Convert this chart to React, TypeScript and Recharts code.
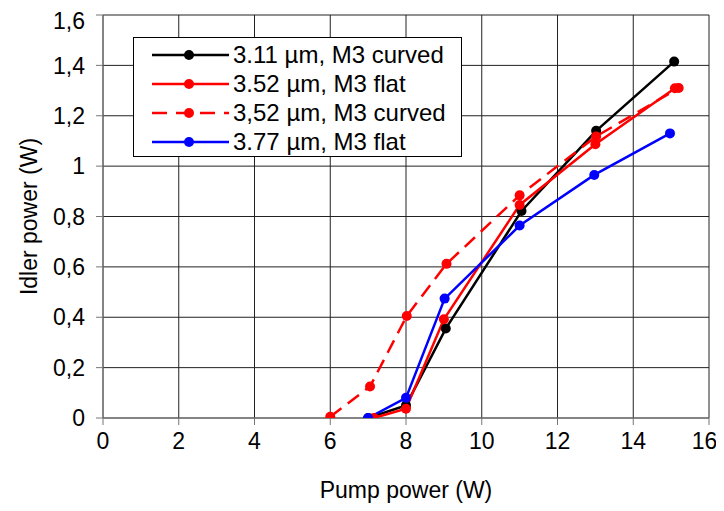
import React from "react";
import { LineChart, Line, XAxis, YAxis, CartesianGrid } from "recharts";

type Pt = { x: number; y: number };

const xTicks = [0, 2, 4, 6, 8, 10, 12, 14, 16];
const yTicks = [0, 0.2, 0.4, 0.6, 0.8, 1, 1.2, 1.4, 1.6];

const curved311: Pt[] = [
  { x: 7, y: 0 },
  { x: 8, y: 0.05 },
  { x: 9.05, y: 0.355 },
  { x: 11.05, y: 0.822 },
  { x: 13.02, y: 1.14 },
  { x: 15.08, y: 1.415 },
];

const flat352: Pt[] = [
  { x: 7.15, y: 0 },
  { x: 8, y: 0.037 },
  { x: 9, y: 0.392 },
  { x: 11, y: 0.846 },
  { x: 13, y: 1.087 },
  { x: 15.1, y: 1.309 },
];

const curved352: Pt[] = [
  { x: 6, y: 0.005 },
  { x: 7.05, y: 0.125 },
  { x: 8.02, y: 0.405 },
  { x: 9.07, y: 0.612 },
  { x: 11, y: 0.884 },
  { x: 13.02, y: 1.118 },
  { x: 15.2, y: 1.31 },
];

const flat377: Pt[] = [
  { x: 7, y: 0 },
  { x: 8, y: 0.08 },
  { x: 9.02, y: 0.474 },
  { x: 11, y: 0.764 },
  { x: 12.97, y: 0.965 },
  { x: 14.97, y: 1.13 },
];

const series = [
  { name: "3.11 µm, M3 curved", data: curved311, color: "#000000", dash: undefined },
  { name: "3.52 µm, M3 flat", data: flat352, color: "#ff0000", dash: undefined },
  { name: "3,52 µm, M3 curved", data: curved352, color: "#ff0000", dash: "14 8" },
  { name: "3.77 µm, M3 flat", data: flat377, color: "#0000ff", dash: undefined },
];

const FONT = "'Liberation Sans', Arial, sans-serif";

const fmt = (v: number) => String(Number(v.toFixed(1))).replace(".", ",");

// legend box sits over the plot, top-left corner
function LegendBox() {
  return (
    <div
      style={{
        position: "absolute",
        left: 125,
        top: 29,
        width: 329,
        height: 120,
        boxSizing: "border-box",
        border: "1px solid #000",
        background: "#fff",
        padding: "2px 0 0 18px",
        fontFamily: FONT,
        fontSize: 24,
        color: "#000",
        lineHeight: "29px",
      }}
    >
      {series.map((s) => (
        <div key={s.name} style={{ display: "flex", alignItems: "center", height: 29 }}>
          <svg width={77} height={14} style={{ marginRight: 4, flex: "none" }}>
            <line
              x1={0}
              y1={7}
              x2={77}
              y2={7}
              stroke={s.color}
              strokeWidth={2.5}
              strokeDasharray={s.dash ? "15 9" : undefined}
            />
            <circle cx={37} cy={7} r={5} fill={s.color} />
          </svg>
          <span style={{ whiteSpace: "nowrap" }}>{s.name}</span>
        </div>
      ))}
    </div>
  );
}

export default function App() {
  // negative bottom margin keeps the page from getting a scrollbar
  return (
    <div
      style={{
        position: "relative",
        width: 708,
        height: 503,
        marginBottom: -8,
        fontFamily: FONT,
      }}
    >
      <style>{".recharts-surface{overflow:visible}"}</style>
      <LineChart
        width={708}
        height={503}
        margin={{ top: 7, right: 7, bottom: 0, left: 0 }}
      >
        <CartesianGrid stroke="#222" strokeWidth={1} />
        <XAxis
          type="number"
          dataKey="x"
          domain={[0, 16]}
          ticks={xTicks}
          allowDataOverflow
          stroke="#777"
          tickSize={7}
          height={93}
          tick={{ fontSize: 23, fill: "#000", fontFamily: FONT }}
          tickMargin={8}
          label={{
            value: "Pump power (W)",
            position: "insideBottom",
            offset: 13,
            style: { fontSize: 23, fill: "#000", fontFamily: FONT },
          }}
        />
        <YAxis
          type="number"
          dataKey="y"
          domain={[0, 1.6]}
          ticks={yTicks}
          allowDataOverflow
          stroke="#777"
          tickSize={7}
          width={95}
          tickFormatter={fmt}
          tick={{ fontSize: 23, fill: "#000", fontFamily: FONT }}
          tickMargin={11}
          label={{
            value: "Idler power (W)",
            angle: -90,
            position: "insideLeft",
            offset: 21,
            style: { fontSize: 23, fill: "#000", fontFamily: FONT, textAnchor: "middle" },
          }}
        />
        {series.map((s) => (
          <Line
            key={s.name}
            name={s.name}
            data={s.data}
            dataKey="y"
            type="linear"
            stroke={s.color}
            strokeWidth={2.5}
            strokeDasharray={s.dash}
            dot={{ r: 5, fill: s.color, stroke: s.color, strokeWidth: 0 }}
            activeDot={false}
            isAnimationActive={false}
          />
        ))}
      </LineChart>
      <LegendBox />
    </div>
  );
}
